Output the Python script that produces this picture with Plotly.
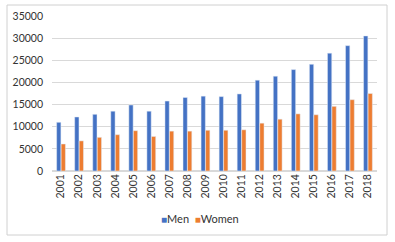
import plotly.graph_objects as go

years = [str(y) for y in range(2001, 2019)]
men = [11000, 12200, 12800, 13500, 14900, 13500, 15800, 16600, 16900, 16800,
       17400, 20500, 21400, 22900, 24100, 26600, 28300, 30500]
women = [6100, 6800, 7600, 8200, 9100, 7800, 9000, 9000, 9200, 9200,
         9300, 10800, 11700, 12900, 12700, 14600, 16100, 17500]
y_ticks = [0, 5000, 10000, 15000, 20000, 25000, 30000, 35000]
y_labels = [str(v) for v in y_ticks]
series_names = ["Men", "Women"]
series_colors = ["#4472C4", "#ED7D31"]

fig = go.Figure()
fig.add_trace(go.Bar(name=series_names[0], x=years, y=men, marker_color=series_colors[0]))
fig.add_trace(go.Bar(name=series_names[1], x=years, y=women, marker_color=series_colors[1]))

W, H = 395, 242
L, R, T, B = 52, 18, 16, 71
pw, ph = W - L - R, H - T - B

def px(x):
    return (x - L) / pw

def py(y):
    return (H - B - y) / ph

legend_text = "&nbsp;&nbsp;".join(
    f"<span style='color:{c}; font-size:10px'>■</span>{n}" for n, c in zip(series_names, series_colors)
)

fig.update_layout(
    width=W, height=H,
    margin=dict(l=L, r=R, t=T, b=B, autoexpand=False),
    barmode="group", bargap=0.5, bargroupgap=0.05,
    plot_bgcolor="white", paper_bgcolor="white",
    font=dict(family="Lato", size=10, color="#333333"),
    showlegend=False,
    xaxis=dict(tickangle=-90, showgrid=False, showline=False, ticks="", automargin=False,
               tickfont=dict(size=10.5, color="#333333")),
    yaxis=dict(range=[0, 35000], tickvals=y_ticks, ticktext=y_labels, showgrid=True,
               gridcolor="#D9D9D9", automargin=False,
               gridwidth=1, zeroline=True, zerolinecolor="#D9D9D9", showline=False,
               ticks="", ticklabelstandoff=8, tickfont=dict(size=10.5, color="#333333")),
    annotations=[dict(text=legend_text, xref="paper", yref="paper", x=px(200), y=py(219),
                      xanchor="center", yanchor="middle", showarrow=False,
                      font=dict(size=11, color="#333333"))],
    shapes=[dict(type="rect", xref="paper", yref="paper",
                 x0=px(7), x1=px(387), y0=py(235), y1=py(5),
                 line=dict(color="#D0D0D0", width=1), layer="below")],
)

fig.write_html("out.html", config={"displayModeBar": False},
               post_script="document.body.style.margin='0';document.body.style.overflow='hidden';")
